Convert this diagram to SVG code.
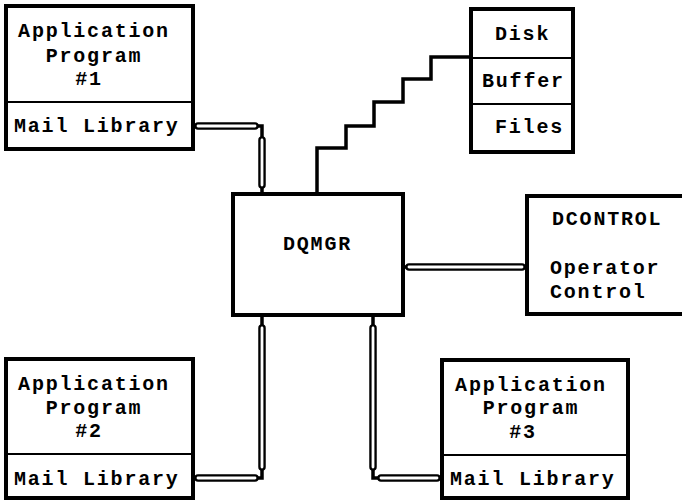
<svg xmlns="http://www.w3.org/2000/svg" width="682" height="500" viewBox="0 0 682 500">
<style>
.box{fill:#fff;stroke:#000;stroke-width:4}
.div{stroke:#000;stroke-width:2;fill:none}
.t{font-family:"Liberation Mono","Courier New",monospace;font-weight:bold;font-size:20px;letter-spacing:1.8px;fill:#000}
.m{text-anchor:middle}
.wire{fill:none;stroke:#000;stroke-width:3.5}
.po{fill:none;stroke:#000;stroke-width:7.5;stroke-linecap:round}
.pi{fill:none;stroke:#fff;stroke-width:2.8;stroke-linecap:round}
</style>
<rect width="682" height="500" fill="#fff"/>
<g id="connectors">
  <path class="wire" d="M193,126 H262 V194"/>
  <path class="po" d="M198,126 H255 M262,140 V185"/>
  <path class="pi" d="M198,126 H255 M262,140 V185"/>
  <path class="wire" d="M262,315 V478 H193"/>
  <path class="po" d="M262,328 V467 M198,478 H255"/>
  <path class="pi" d="M262,328 V467 M198,478 H255"/>
  <path class="wire" d="M373,315 V478 H442"/>
  <path class="po" d="M373,328 V467 M381,478 H437"/>
  <path class="pi" d="M373,328 V467 M381,478 H437"/>
  <path class="wire" d="M403,267 H527"/>
  <path class="po" d="M409,267 H522"/>
  <path class="pi" d="M409,267 H522"/>
  <path class="wire" stroke-width="4" d="M317,194 V148 H346 V126 H374 V102 H403 V79 H431 V57 H471"/>
</g>
<g id="app1">
  <rect class="box" x="6" y="6" width="187" height="143"/>
  <line class="div" x1="6" y1="102" x2="193" y2="102"/>
  <text class="t m" x="94" y="37">Application</text>
  <text class="t m" x="94" y="62">Program</text>
  <text class="t m" x="89" y="85">#1</text>
  <text class="t" x="14" y="132">Mail Library</text>
</g>
<g id="disk">
  <rect class="box" x="471" y="9" width="102" height="143"/>
  <line class="div" x1="471" y1="58" x2="573" y2="58"/>
  <line class="div" x1="471" y1="104" x2="573" y2="104"/>
  <text class="t" x="495" y="40">Disk</text>
  <text class="t" x="482" y="87">Buffer</text>
  <text class="t" x="495" y="133">Files</text>
</g>
<g id="dqmgr">
  <rect class="box" x="233" y="194" width="170" height="121"/>
  <text class="t" x="283" y="250">DQMGR</text>
</g>
<g id="dcontrol">
  <rect class="box" x="527" y="196" width="165" height="118"/>
  <text class="t" x="552" y="225">DCONTROL</text>
  <text class="t" x="550" y="274">Operator</text>
  <text class="t" x="550" y="298">Control</text>
</g>
<g id="app2">
  <rect class="box" x="6" y="359" width="187" height="139"/>
  <line class="div" x1="6" y1="454" x2="193" y2="454"/>
  <text class="t m" x="94" y="390">Application</text>
  <text class="t m" x="94" y="414">Program</text>
  <text class="t m" x="89" y="437">#2</text>
  <text class="t" x="14" y="485">Mail Library</text>
</g>
<g id="app3">
  <rect class="box" x="442" y="360" width="186" height="138"/>
  <line class="div" x1="442" y1="455" x2="628" y2="455"/>
  <text class="t m" x="531" y="391">Application</text>
  <text class="t m" x="531" y="414">Program</text>
  <text class="t m" x="523" y="438">#3</text>
  <text class="t" x="450" y="485">Mail Library</text>
</g>
</svg>
